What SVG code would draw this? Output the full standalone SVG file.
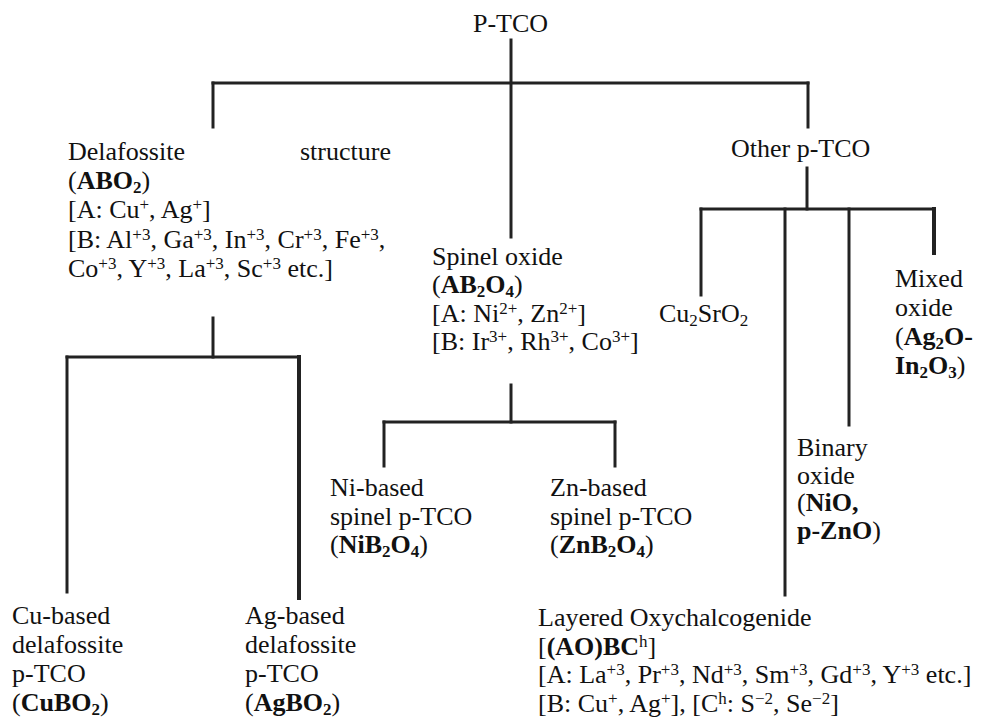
<svg xmlns="http://www.w3.org/2000/svg" width="1007" height="718" viewBox="0 0 1007 718">
<style>
text{font-family:"Liberation Serif","Times New Roman",serif;font-size:26px;fill:#111}
.b{font-weight:bold}
.s{font-size:17px}
#connectors line{stroke:#222;stroke-width:3;stroke-linecap:square}
</style>
<rect width="1007" height="718" fill="#fff"/>
<g id="connectors">
<line x1="511" y1="40" x2="511" y2="237"/>
<line x1="213" y1="83" x2="808" y2="83"/>
<line x1="213" y1="83" x2="213" y2="127"/>
<line x1="808" y1="83" x2="808" y2="127"/>
<line x1="213" y1="318" x2="213" y2="357"/>
<line x1="67" y1="357" x2="299" y2="357"/>
<line x1="67" y1="357" x2="67" y2="592"/>
<line x1="299" y1="357" x2="299" y2="598" style="stroke-width:4"/>
<line x1="511" y1="385" x2="511" y2="422"/>
<line x1="384" y1="422" x2="615" y2="422"/>
<line x1="384" y1="422" x2="384" y2="466"/>
<line x1="615" y1="422" x2="615" y2="466"/>
<line x1="807" y1="168" x2="807" y2="209"/>
<line x1="701" y1="209" x2="934" y2="209"/>
<line x1="701" y1="209" x2="701" y2="295"/>
<line x1="785" y1="209" x2="785" y2="595"/>
<line x1="849" y1="209" x2="849" y2="425"/>
<line x1="934" y1="209" x2="934" y2="253" style="stroke-width:4"/>
</g>
<g id="root"><text x="473" y="32">P-TCO</text></g>
<g id="delafossite">
<text x="68" y="160">Delafossite</text>
<text x="300" y="160">structure</text>
<text x="68" y="189">(<tspan class="b">ABO<tspan class="s" dy="4">2</tspan></tspan><tspan dy="-4">)</tspan></text>
<text x="68" y="218">[A: Cu<tspan class="s" dy="-8">+</tspan><tspan dy="8">, Ag</tspan><tspan class="s" dy="-8">+</tspan><tspan dy="8">]</tspan></text>
<text x="68" y="248">[B: Al<tspan class="s" dy="-8">+3</tspan><tspan dy="8">, Ga</tspan><tspan class="s" dy="-8">+3</tspan><tspan dy="8">, In</tspan><tspan class="s" dy="-8">+3</tspan><tspan dy="8">, Cr</tspan><tspan class="s" dy="-8">+3</tspan><tspan dy="8">, Fe</tspan><tspan class="s" dy="-8">+3</tspan><tspan dy="8">,</tspan></text>
<text x="68" y="277">Co<tspan class="s" dy="-8">+3</tspan><tspan dy="8">, Y</tspan><tspan class="s" dy="-8">+3</tspan><tspan dy="8">, La</tspan><tspan class="s" dy="-8">+3</tspan><tspan dy="8">, Sc</tspan><tspan class="s" dy="-8">+3</tspan><tspan dy="8"> etc.]</tspan></text>
</g>
<g id="spinel">
<text x="432" y="265">Spinel oxide</text>
<text x="432" y="293">(<tspan class="b">AB<tspan class="s" dy="4">2</tspan><tspan dy="-4">O</tspan><tspan class="s" dy="4">4</tspan></tspan><tspan dy="-4">)</tspan></text>
<text x="432" y="322">[A: Ni<tspan class="s" dy="-8">2+</tspan><tspan dy="8">, Zn</tspan><tspan class="s" dy="-8">2+</tspan><tspan dy="8">]</tspan></text>
<text x="432" y="350">[B: Ir<tspan class="s" dy="-8">3+</tspan><tspan dy="8">, Rh</tspan><tspan class="s" dy="-8">3+</tspan><tspan dy="8">, Co</tspan><tspan class="s" dy="-8">3+</tspan><tspan dy="8">]</tspan></text>
</g>
<g id="other">
<text x="731" y="157">Other p-TCO</text>
</g>
<g id="cu2sro2">
<text x="659" y="322">Cu<tspan class="s" dy="4">2</tspan><tspan dy="-4">SrO</tspan><tspan class="s" dy="4">2</tspan></text>
</g>
<g id="mixed">
<text x="895" y="287">Mixed</text>
<text x="895" y="316">oxide</text>
<text x="895" y="345">(<tspan class="b">Ag<tspan class="s" dy="4">2</tspan><tspan dy="-4">O-</tspan></tspan></text>
<text x="895" y="374" class="b">In<tspan class="s" dy="4">2</tspan><tspan dy="-4">O</tspan><tspan class="s" dy="4">3</tspan><tspan dy="-4" style="font-weight:normal">)</tspan></text>
</g>
<g id="binary">
<text x="797" y="456">Binary</text>
<text x="797" y="484">oxide</text>
<text x="797" y="511">(<tspan class="b">NiO,</tspan></text>
<text x="797" y="539"><tspan class="b">p-ZnO</tspan>)</text>
</g>
<g id="nibased">
<text x="330" y="496">Ni-based</text>
<text x="330" y="525">spinel p-TCO</text>
<text x="330" y="553">(<tspan class="b">NiB<tspan class="s" dy="4">2</tspan><tspan dy="-4">O</tspan><tspan class="s" dy="4">4</tspan></tspan><tspan dy="-4">)</tspan></text>
</g>
<g id="znbased">
<text x="550" y="496">Zn-based</text>
<text x="550" y="525">spinel p-TCO</text>
<text x="550" y="553">(<tspan class="b">ZnB<tspan class="s" dy="4">2</tspan><tspan dy="-4">O</tspan><tspan class="s" dy="4">4</tspan></tspan><tspan dy="-4">)</tspan></text>
</g>
<g id="cubased">
<text x="12" y="624">Cu-based</text>
<text x="12" y="653">delafossite</text>
<text x="12" y="682">p-TCO</text>
<text x="12" y="711">(<tspan class="b">CuBO<tspan class="s" dy="4">2</tspan></tspan><tspan dy="-4">)</tspan></text>
</g>
<g id="agbased">
<text x="245" y="624">Ag-based</text>
<text x="245" y="653">delafossite</text>
<text x="245" y="682">p-TCO</text>
<text x="245" y="711">(<tspan class="b">AgBO<tspan class="s" dy="4">2</tspan></tspan><tspan dy="-4">)</tspan></text>
</g>
<g id="layered">
<text x="538" y="626">Layered Oxychalcogenide</text>
<text x="538" y="655">[<tspan class="b">(AO)BC</tspan><tspan class="s" dy="-8">h</tspan><tspan dy="8">]</tspan></text>
<text x="538" y="683">[A: La<tspan class="s" dy="-8">+3</tspan><tspan dy="8">, Pr</tspan><tspan class="s" dy="-8">+3</tspan><tspan dy="8">, Nd</tspan><tspan class="s" dy="-8">+3</tspan><tspan dy="8">, Sm</tspan><tspan class="s" dy="-8">+3</tspan><tspan dy="8">, Gd</tspan><tspan class="s" dy="-8">+3</tspan><tspan dy="8">, Y</tspan><tspan class="s" dy="-8">+3</tspan><tspan dy="8"> etc.]</tspan></text>
<text x="538" y="712">[B: Cu<tspan class="s" dy="-8">+</tspan><tspan dy="8">, Ag</tspan><tspan class="s" dy="-8">+</tspan><tspan dy="8">], [C</tspan><tspan class="s" dy="-8">h</tspan><tspan dy="8">: S</tspan><tspan class="s" dy="-8">−2</tspan><tspan dy="8">, Se</tspan><tspan class="s" dy="-8">−2</tspan><tspan dy="8">]</tspan></text>
</g>
</svg>
